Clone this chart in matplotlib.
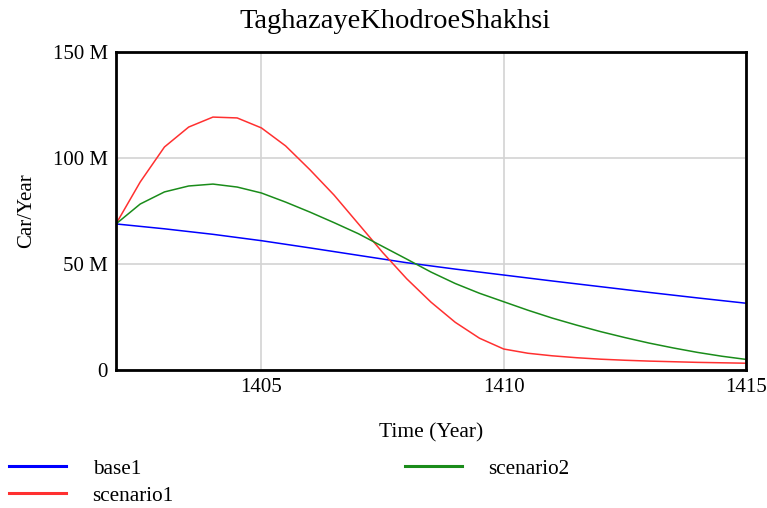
import matplotlib
matplotlib.use("Agg")
import matplotlib.pyplot as plt

plt.rcParams['font.family'] = ['Liberation Serif', 'DejaVu Serif']

title = "TaghazayeKhodroeShakhsi"
x_label = "Time (Year)"
y_label = "Car/Year"

years_base = [1402, 1403, 1404, 1405, 1406, 1407, 1408, 1409, 1410, 1411, 1412, 1413, 1414, 1415]
base1 = [68.9, 66.6, 64.0, 61.0, 57.6, 54.1, 50.6, 47.6, 44.8, 42.0, 39.3, 36.6, 34.0, 31.5]

years_half = [1402, 1402.5, 1403, 1403.5, 1404, 1404.5, 1405, 1405.5, 1406, 1406.5,
              1407, 1407.5, 1408, 1408.5, 1409, 1409.5, 1410, 1410.5, 1411, 1411.5,
              1412, 1412.5, 1413, 1413.5, 1414, 1414.5, 1415]
scenario1 = [68.9, 88.7, 105.2, 114.6, 119.3, 118.9, 114.2, 105.7, 94.5, 82.5,
             69.0, 55.5, 43.0, 32.0, 22.5, 15.0, 9.9, 7.9, 6.7, 5.8,
             5.1, 4.6, 4.2, 3.9, 3.6, 3.4, 3.2]
scenario2 = [68.9, 78.3, 84.0, 86.8, 87.7, 86.3, 83.5, 79.2, 74.5, 69.5,
             64.3, 58.3, 52.3, 46.2, 40.8, 36.2, 32.2, 28.2, 24.5, 21.2,
             18.1, 15.3, 12.7, 10.4, 8.3, 6.5, 5.0]

x_ticks = [1405, 1410, 1415]
y_ticks = [0, 50, 100, 150]
y_tick_labels = ["0", "50 M", "100 M", "150 M"]

W, H = 767, 508
fig = plt.figure(figsize=(W/100, H/100), dpi=100)
ax = fig.add_axes([116/W, 1-370/H, (746-116)/W, (370-52)/H])

l1, = ax.plot(years_base, base1, color='#0000ff', lw=1.1, label='base1')
l2, = ax.plot(years_half, scenario1, color='#ff3030', lw=1.1, label='scenario1')
l3, = ax.plot(years_half, scenario2, color='#1a8c1a', lw=1.1, label='scenario2')

ax.set_xlim(1402, 1415)
ax.set_ylim(0, 150)
ax.set_xticks(x_ticks)
ax.set_xticklabels([str(t) for t in x_ticks])
ax.set_yticks(y_ticks)
ax.set_yticklabels(y_tick_labels)
ax.tick_params(length=0, labelsize=15, pad=6)
ax.grid(True, color='#d3d3d3', lw=1.2)
for s in ax.spines.values():
    s.set_linewidth(2)
    s.set_color('black')

fig.text(395/W, 1-22/H, title, fontsize=20.5, ha='center', va='center')
ax.set_xlabel(x_label, fontsize=15.5, labelpad=19)
ax.set_ylabel(y_label, fontsize=15, labelpad=12)

leg = fig.legend(handles=[l1, l2, l3], loc='upper left', bbox_to_anchor=(11/W - 0.002, 1-459/H),
                 ncol=2, frameon=False, fontsize=15.3, handlelength=2.64,
                 handletextpad=1.27, columnspacing=10.9, labelspacing=0.32,
                 borderaxespad=0, borderpad=0)
for h in leg.legend_handles:
    h.set_linewidth(2.2)

fig.savefig("out.png", dpi=100)
